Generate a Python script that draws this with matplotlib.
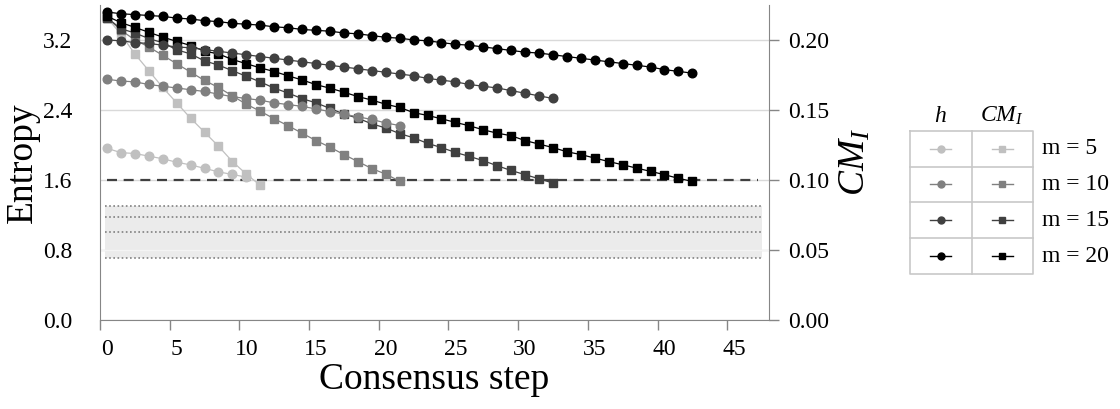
import numpy as np
import matplotlib
matplotlib.use("Agg")
import matplotlib.pyplot as plt

plt.rcParams["font.family"] = ["Liberation Serif", "DejaVu Serif"]
plt.rcParams["mathtext.fontset"] = "custom"
plt.rcParams["mathtext.rm"] = "Liberation Serif"
plt.rcParams["mathtext.it"] = "Liberation Serif:italic"

# entropy h per consensus step (left axis)
h5 = [1.96, 1.91, 1.90, 1.87, 1.84, 1.80, 1.77, 1.73, 1.69, 1.66, 1.63]
h10 = [2.75, 2.73, 2.72, 2.69, 2.67, 2.65, 2.63, 2.61, 2.58, 2.55, 2.53,
       2.51, 2.48, 2.46, 2.44, 2.41, 2.38, 2.35, 2.32, 2.29, 2.25, 2.22]
h15 = [3.20, 3.19, 3.17, 3.16, 3.14, 3.12, 3.11, 3.09, 3.07, 3.05, 3.03,
       3.01, 2.99, 2.97, 2.95, 2.93, 2.91, 2.89, 2.87, 2.85, 2.83, 2.81,
       2.79, 2.76, 2.74, 2.72, 2.69, 2.67, 2.65, 2.62, 2.59, 2.56, 2.53]
h20 = [3.52, 3.50, 3.49, 3.48, 3.47, 3.45, 3.44, 3.42, 3.41, 3.39, 3.38,
       3.37, 3.35, 3.34, 3.32, 3.31, 3.30, 3.28, 3.27, 3.25, 3.23, 3.22,
       3.20, 3.19, 3.17, 3.15, 3.14, 3.12, 3.10, 3.08, 3.06, 3.05, 3.03,
       3.01, 2.99, 2.97, 2.95, 2.93, 2.91, 2.89, 2.86, 2.84, 2.82]

# CM_I per consensus step (right axis)
cm5 = [0.216, 0.204, 0.190, 0.178, 0.166, 0.155, 0.144, 0.134, 0.124, 0.113,
       0.104, 0.096]
cm10 = [0.216, 0.207, 0.200, 0.195, 0.189, 0.183, 0.177, 0.171, 0.166, 0.160,
        0.154, 0.149, 0.1436, 0.1386, 0.1333, 0.128, 0.1233, 0.118, 0.113,
        0.108, 0.104, 0.099]
cm15 = [0.216, 0.208, 0.205, 0.201, 0.198, 0.193, 0.190, 0.185, 0.182, 0.178,
        0.174, 0.170, 0.1655, 0.162, 0.158, 0.155, 0.151, 0.147, 0.144, 0.140,
        0.137, 0.133, 0.130, 0.126, 0.123, 0.1195, 0.1167, 0.1136, 0.110,
        0.1066, 0.1036, 0.1007, 0.0976]
cm20 = [0.217, 0.2124, 0.209, 0.2055, 0.202, 0.199, 0.196, 0.192, 0.190, 0.186,
        0.183, 0.180, 0.1774, 0.1743, 0.1714, 0.168, 0.1655, 0.1626, 0.1595,
        0.157, 0.154, 0.1517, 0.148, 0.146, 0.1436, 0.141, 0.1386, 0.1357,
        0.1333, 0.1315, 0.128, 0.1255, 0.123, 0.120, 0.118, 0.1155, 0.113,
        0.1107, 0.1083, 0.106, 0.1036, 0.101, 0.0988]

m_values = [5, 10, 15, 20]
h_series = [h5, h10, h15, h20]
cm_series = [cm5, cm10, cm15, cm20]
colors = ["#c0c0c0", "#808080", "#404040", "#000000"]

cm_threshold = 0.10
band_lines = [0.70, 1.00, 1.17, 1.30]   # entropy units
n_steps = 48
xtick_labels = list(range(0, 46, 5))

W, H = 1120, 409
fig = plt.figure(figsize=(W / 100, H / 100), dpi=100)
ax = fig.add_axes([100 / W, (H - 319.5) / H, 669 / W, 314.5 / H])
ax2 = ax.twinx()
ax.set_zorder(ax2.get_zorder() + 1)
ax.patch.set_visible(False)

spine_c = "#868686"
grid_c = "#d9d9d9"

# CM_I squares underneath
for vals, c in zip(cm_series, colors):
    ax2.plot(np.arange(len(vals)), vals, "-s", color=c, lw=0.9, ms=5.3,
             mec=c, mfc=c, zorder=3)
ax2.axhline(cm_threshold, xmin=0.5 / n_steps, xmax=47.2 / n_steps,
            color="#404040", ls=(0, (4.5, 3)), lw=1.6, zorder=2)
ax2.set_ylim(0, 0.225)
ax2.set_yticks([0.0, 0.05, 0.10, 0.15, 0.20])
ax2.set_yticklabels(["0.00", "0.05", "0.10", "0.15", "0.20"])
ax2.yaxis.grid(True, color=grid_c, lw=1)
ax2.set_axisbelow(True)
ax2.tick_params(axis="y", direction="out", length=7, width=1, color=spine_c,
                labelsize=17, pad=7)
ax2.set_ylabel("$CM_I$", fontsize=27, labelpad=6)

# entropy circles on top
band_x = [-0.15, 47.0]
ax.fill_between(band_x, band_lines[0], band_lines[-1], color="#ebebeb",
                lw=0, zorder=0)
ax.axhline(0.8, color="#f4f4f4", lw=1, zorder=0.5)
for y in band_lines:
    ax.plot(band_x, [y, y], ls=(0, (1, 1.5)), color="#808080", lw=1.2,
            zorder=1)
for vals, c in zip(h_series, colors):
    ax.plot(np.arange(len(vals)), vals, "-o", color=c, lw=0.9, ms=6.2,
            mec=c, mfc=c, zorder=4)

ax.set_xlim(-0.5, n_steps - 0.5)
ax.set_ylim(0, 3.6)
ax.set_yticks([0.0, 0.8, 1.6, 2.4, 3.2])
ax.set_yticklabels(["0.0", "0.8", "1.6", "2.4", "3.2"])
ax.tick_params(axis="y", length=0, labelsize=17, pad=20)
ax.set_xticks(np.arange(-0.5, n_steps - 1, 5))
ax.set_xticklabels([])
ax.set_xticks(xtick_labels, minor=True)
ax.set_xticklabels([str(v) for v in xtick_labels], minor=True)
ax.tick_params(axis="x", which="major", direction="out", length=7, width=1,
               color=spine_c)
ax.tick_params(axis="x", which="minor", length=0, labelsize=17, pad=14)
ax.set_xlabel("Consensus step", fontsize=27, labelpad=2)
ax.set_ylabel("Entropy", fontsize=27, labelpad=2)

for a in (ax, ax2):
    a.spines["top"].set_visible(False)
    for s in a.spines.values():
        s.set_color(spine_c)
ax.spines["right"].set_visible(False)
ax2.spines["left"].set_visible(False)
ax2.spines["bottom"].set_visible(False)

# legend table: h / CM_I columns, one row per m
lg = fig.add_axes([910 / W, (H - 274) / H, 123 / W, 143.3 / H])
lg.set_xlim(0, 2)
lg.set_ylim(4, 0)
lg.axis("off")
tab_c = "#c8c8c8"
lg.plot([0, 2, 2, 0, 0], [0, 0, 4, 4, 0], color=tab_c, lw=1.2, clip_on=False)
lg.plot([1, 1], [0, 4], color=tab_c, lw=1.2, clip_on=False)
for r in range(1, 4):
    lg.plot([0, 2], [r, r], color=tab_c, lw=1.2, clip_on=False)
for r, (m, c) in enumerate(zip(m_values, colors)):
    yc = r + 0.5
    lg.plot([0.33, 0.67], [yc, yc], color=c, lw=1)
    lg.plot([0.5], [yc], "o", color=c, ms=5)
    lg.plot([1.33, 1.67], [yc, yc], color=c, lw=1)
    lg.plot([1.5], [yc], "s", color=c, ms=5)
    lg.text(2.15, yc, f"m = {m}", fontsize=17, va="center", ha="left")
lg.text(0.5, -0.1, "$h$", fontsize=17, ha="center", va="bottom")
lg.text(1.5, -0.1, "$CM_I$", fontsize=17, ha="center", va="bottom")

fig.savefig("out.png", dpi=100)
